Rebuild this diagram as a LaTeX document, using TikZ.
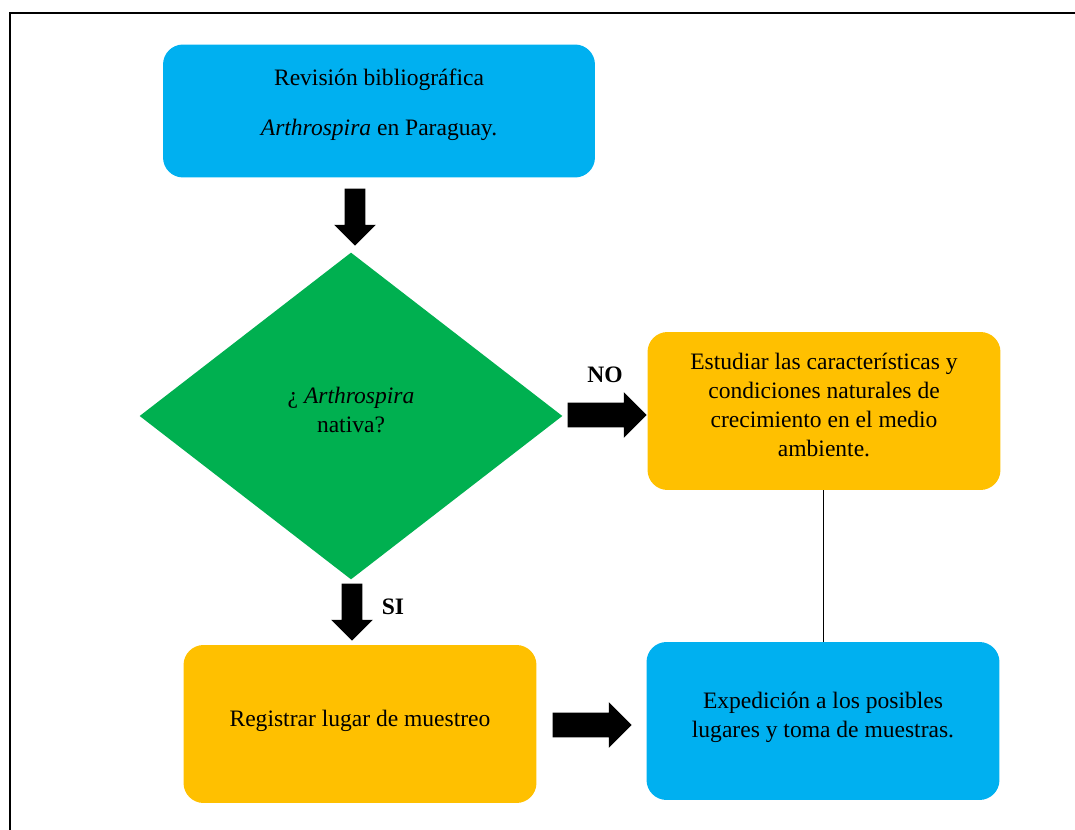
\documentclass[tikz,border=0pt]{standalone}
\usepackage{fontspec}
\setmainfont{Liberation Serif}
\usetikzlibrary{shapes.geometric,shapes.arrows}
\definecolor{azul}{HTML}{00B0F0}
\definecolor{verde}{HTML}{00B050}
\definecolor{naranja}{HTML}{FFC000}
\begin{document}
\begin{tikzpicture}[x=0.02cm,y=-0.02cm,
    texto/.style={align=center,font=\fontsize{13.4}{16.5}\selectfont},
    caja/.style={texto,text depth=7pt,rounded corners=0.4cm,inner sep=0,minimum width=7.06cm,minimum height=3.16cm},
    flecha/.style={single arrow,fill=black,single arrow head extend=0.21cm},
    abajo/.style={flecha,shape border rotate=270,inner sep=0.2cm,minimum height=1.14cm},
    derecha/.style={flecha,inner sep=0.24cm,minimum height=1.58cm}]
    \useasboundingbox (0,0) rectangle (1075,830);
    \draw[line width=1.1pt] (10,840) -- (10,13) -- (1085,13);
    \node[caja,fill=azul,text depth=10pt,minimum width=8.64cm,minimum height=2.66cm] (revision) at (379,111)
        {Revisión bibliográfica\\[12pt] \textit{Arthrospira} en Paraguay.};
    \node[texto,text depth=7pt,diamond,fill=verde,inner sep=0,minimum width=8.46cm,minimum height=6.54cm] (nativa) at (351,416)
        {¿ \textit{Arthrospira}\\ nativa?};
    \node[caja,fill=naranja] (estudiar) at (824,411)
        {Estudiar las características y\\ condiciones naturales de\\ crecimiento en el medio\\ ambiente.};
    \node[caja,fill=azul] (expedicion) at (823,721)
        {Expedición a los posibles\\ lugares y toma de muestras.};
    \node[caja,fill=naranja] (registrar) at (360,724) {Registrar lugar de muestreo};
    \node[abajo] (f1) at (355,212) {};
    \node[abajo] (fsi) at (352,607) {};
    \node[derecha] (fno) at (601,415) {};
    \node[derecha] (f4) at (586,725) {};
    \node[texto,font=\fontsize{13.4}{16.5}\selectfont\bfseries] (lblno) at (605,375) {NO};
    \node[texto,font=\fontsize{13.4}{16.5}\selectfont\bfseries] (lblsi) at (393,607) {SI};
    \draw (expedicion.north |- estudiar.south) -- (expedicion.north);
\end{tikzpicture}
\end{document}
